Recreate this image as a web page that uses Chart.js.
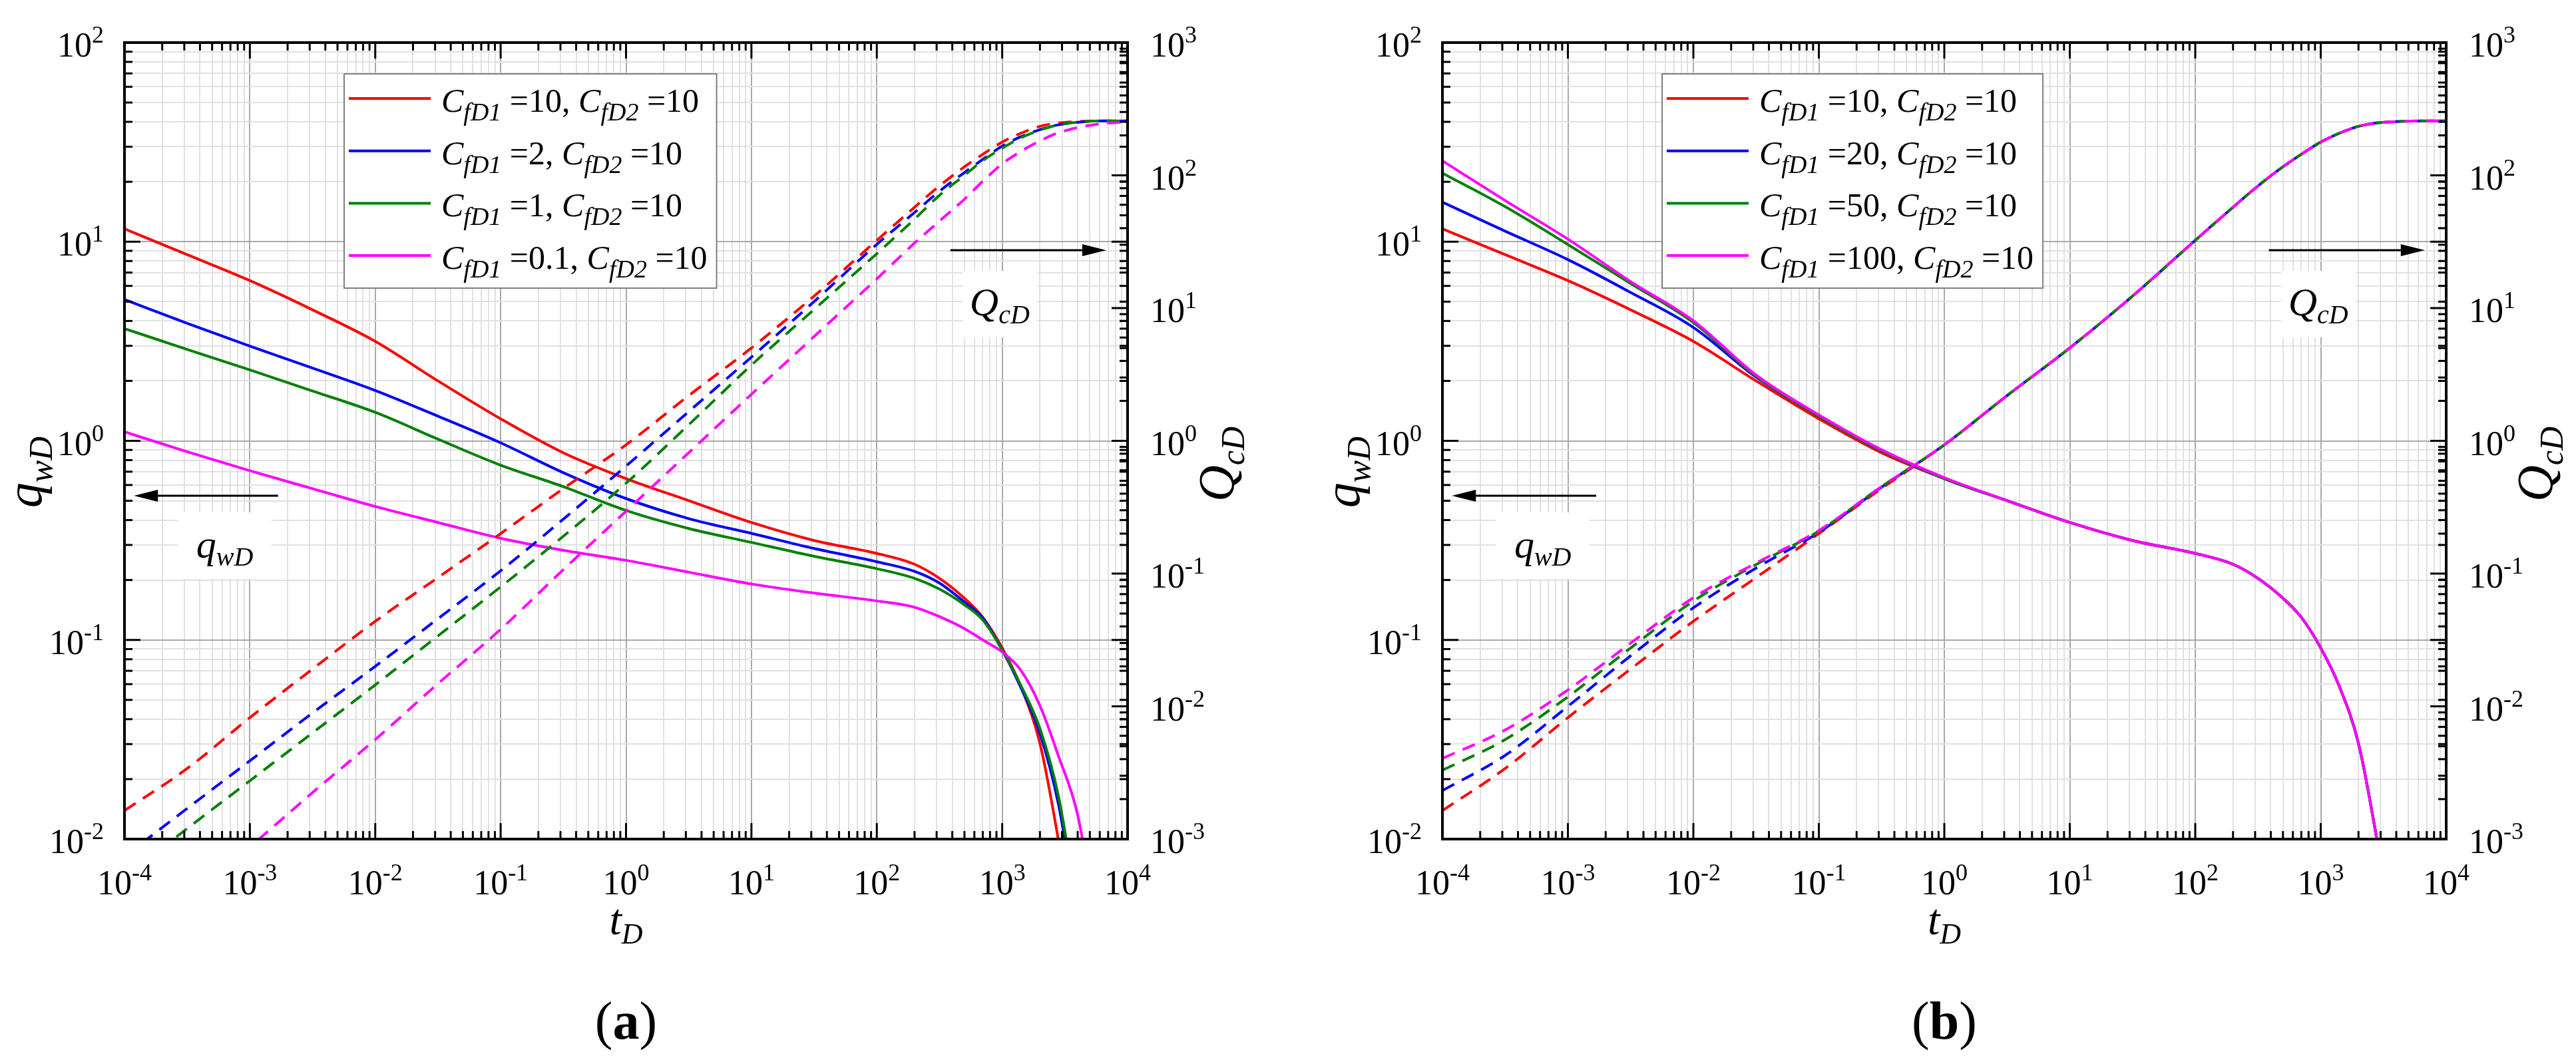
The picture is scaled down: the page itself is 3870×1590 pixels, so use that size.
<!DOCTYPE html>
<html>
<head>
<meta charset="utf-8">
<title>qwD e QcD em função de tD</title>
<script src="https://cdn.jsdelivr.net/npm/chart.js@4.4.1/dist/chart.umd.min.js"></script>
<style>
  body { margin: 0; background: #fff; }
  .painel { position: absolute; top: 0; }
</style>
</head>
<body>
<canvas id="graficoA" class="painel" width="1935" height="1590" style="left:0"></canvas>
<canvas id="graficoB" class="painel" width="1935" height="1590" style="left:1935px"></canvas>
<script>
// Tempo adimensional (eixo x) - mesmos pontos para todas as curvas
const tD = [1e-4, 3.16e-4, 1e-3, 3.16e-3, 0.01, 0.0316, 0.1, 0.316, 1, 3.16, 10, 31.6,
            100, 200, 316, 500, 700, 1000, 1400, 2000, 2800, 4000, 6300, 10000];

// Caso base CfD1 = 10, CfD2 = 10 (vermelho, aparece nos dois painéis)
const qwBase = [11.6, 8.61, 6.38, 4.55, 3.16, 2.0, 1.29, 0.871, 0.646, 0.501, 0.389, 0.316,
                0.272, 0.240, 0.204, 0.162, 0.130, 0.0912, 0.0589, 0.0302, 0.0100, 0.0025];
const QcBase = [0.00164, 0.0034, 0.00822, 0.0191, 0.0437, 0.0933, 0.200, 0.437, 0.933, 2.19, 5.01, 12.3,
                32.4, 57.5, 83.2, 116, 144, 178, 207, 234, 248, 254, 257, 257];

// Painel (a): CfD1 = 2, 1, 0.1
const qwA2 = [5.13, 3.89, 2.99, 2.32, 1.79, 1.33, 0.977, 0.692, 0.513, 0.407, 0.343, 0.288,
              0.247, 0.221, 0.193, 0.155, 0.129, 0.0891, 0.0582, 0.0339, 0.0151, 0.0040];
const qwA1 = [3.66, 2.88, 2.27, 1.78, 1.39, 1.02, 0.755, 0.589, 0.447, 0.363, 0.309, 0.263,
              0.228, 0.204, 0.180, 0.150, 0.126, 0.0891, 0.0596, 0.0359, 0.0166, 0.00447];
const qwA01 = [1.11, 0.881, 0.708, 0.575, 0.468, 0.389, 0.324, 0.282, 0.251, 0.219, 0.191, 0.172,
               0.157, 0.146, 0.131, 0.114, 0.100, 0.0871, 0.0708, 0.0468, 0.0263, 0.0132, 0.00251];
const QcA2 = [0.00074, 0.0017, 0.00389, 0.00891, 0.020, 0.0457, 0.105, 0.257, 0.646, 1.66, 4.27, 11.2,
              30.2, 52.5, 75.9, 105, 132, 166, 195, 221, 240, 251, 257, 257];
const QcA1 = [0.000513, 0.0012, 0.00275, 0.00631, 0.0145, 0.0339, 0.0794, 0.191, 0.479, 1.32, 3.72, 9.77,
              25.7, 46.8, 70.8, 100, 129, 160, 191, 219, 240, 251, 257, 257];
const QcA01 = [0.000135, 0.000347, 0.000871, 0.00224, 0.00562, 0.0148, 0.038, 0.107, 0.295, 0.813, 2.24, 6.1,
               16.6, 30.9, 45.2, 66.1, 90.2, 122, 151, 182, 209, 229, 245, 254];

// Painel (b): CfD1 = 20, 50, 100
const qwB20 = [15.8, 11.3, 8.13, 5.56, 3.71, 2.09, 1.33, 0.891, 0.646, 0.501, 0.389, 0.316,
               0.272, 0.240, 0.204, 0.162, 0.130, 0.0912, 0.0589, 0.0302, 0.0100, 0.0025];
const qwB50 = [22.1, 15.0, 9.68, 6.17, 3.93, 2.11, 1.33, 0.891, 0.646, 0.501, 0.389, 0.316,
               0.272, 0.240, 0.204, 0.162, 0.130, 0.0912, 0.0589, 0.0302, 0.0100, 0.0025];
const qwB100 = [25.5, 16.1, 10.3, 6.31, 4.01, 2.14, 1.35, 0.902, 0.653, 0.501, 0.389, 0.316,
                0.272, 0.240, 0.204, 0.162, 0.130, 0.0912, 0.0589, 0.0302, 0.0100, 0.0025];
const QcB20 = [0.00232, 0.00427, 0.01, 0.024, 0.0552, 0.11, 0.204, 0.447, 0.933, 2.19, 5.01, 12.3,
               32.4, 57.5, 83.2, 116, 144, 178, 207, 234, 248, 254, 257, 257];
const QcB50 = [0.0033, 0.00562, 0.0118, 0.0275, 0.0621, 0.117, 0.209, 0.452, 0.933, 2.19, 5.01, 12.3,
               32.4, 57.5, 83.2, 116, 144, 178, 207, 234, 248, 254, 257, 257];
const QcB100 = [0.00405, 0.00664, 0.0133, 0.0299, 0.0658, 0.12, 0.211, 0.452, 0.933, 2.19, 5.01, 12.3,
                32.4, 57.5, 83.2, 116, 144, 178, 207, 234, 248, 254, 257, 257];

// Legendas (CfD2 = 10 em todas)
const cfd1A = ['10', '2', '1', '0.1'];
const cfd1B = ['10', '20', '50', '100'];
const cfd2 = '10';
const cores = ['#ff0000', '#0000ff', '#008000', '#ff00ff'];

// Expoentes dos rótulos dos eixos (10^n) e marcas menores
const expT = [-4, -3, -2, -1, 0, 1, 2, 3, 4];
const expQw = [-2, -1, 0, 1, 2];
const expQc = [-3, -2, -1, 0, 1, 2, 3];
const menores = [2, 3, 4, 5, 6, 7, 8, 9];

const F = '"Liberation Serif", "Times New Roman", serif';
const it = px => `italic ${px}px ${F}`;
const rg = px => `${px}px ${F}`;

function ticksLog(exps) {
    const lista = [];
    exps.forEach((e, i) => {
        lista.push({ value: Math.pow(10, e), major: true });
        if (i < exps.length - 1) {
            menores.forEach(m => lista.push({ value: m * Math.pow(10, e), major: false }));
        }
    });
    return lista;
}

function serie(valores, cor, eixo, tracejado, ordem) {
    return {
        data: valores.map((v, i) => ({ x: tD[i], y: v })),
        borderColor: cor,
        borderWidth: 4,
        borderDash: tracejado ? [20, 13] : [],
        pointRadius: 0,
        fill: false,
        yAxisID: eixo,
        cubicInterpolationMode: 'monotone',
        order: ordem
    };
}

// Texto com partes em fontes diferentes (subscritos / sobrescritos)
function textoRico(ctx, x, y, partes, alinh) {
    let largura = 0;
    partes.forEach(p => { ctx.font = p.f; p.w = ctx.measureText(p.t).width; largura += p.w; });
    let cx = alinh === 'center' ? x - largura / 2 : (alinh === 'right' ? x - largura : x);
    partes.forEach(p => { ctx.font = p.f; ctx.fillText(p.t, cx, y + (p.dy || 0)); cx += p.w; });
    return largura;
}

function textoVertical(ctx, x, y, partes) {
    ctx.save();
    ctx.translate(x, y);
    ctx.rotate(-Math.PI / 2);
    textoRico(ctx, 0, 0, partes, 'center');
    ctx.restore();
}

function rotuloPot(ctx, x, y, e, alinh) {
    textoRico(ctx, x, y, [{ t: '10', f: rg(52) }, { t: String(e), f: rg(36), dy: -21 }], alinh);
}

function linha(ctx, x0, y0, x1, y1) {
    ctx.beginPath();
    ctx.moveTo(x0, y0);
    ctx.lineTo(x1, y1);
    ctx.stroke();
}

function seta(ctx, x0, y0, x1, y1) {
    const ang = Math.atan2(y1 - y0, x1 - x0);
    const comp = 36, meia = 9;
    const bx = x1 - comp * Math.cos(ang), by = y1 - comp * Math.sin(ang);
    ctx.lineWidth = 3;
    linha(ctx, x0, y0, bx, by);
    ctx.beginPath();
    ctx.moveTo(x1, y1);
    ctx.lineTo(bx + meia * Math.sin(ang), by - meia * Math.cos(ang));
    ctx.lineTo(bx - meia * Math.sin(ang), by + meia * Math.cos(ang));
    ctx.closePath();
    ctx.fill();
}

// Posições das anotações (em unidades dos eixos)
const anotQw = { tSeta0: 1.68e-3, tSeta1: 1.19e-4, qSeta: 0.53, tTexto: 6.3e-4, qTexto: 0.259 };
const anotQc = { tSeta0: 386, tSeta1: 6750, QSeta: 27.3, tTexto: 955, QTexto: 8.8 };

const desenho = {
    id: 'desenho',
    beforeDatasetsDraw(chart) {
        // caixas brancas atrás dos rótulos qwD e QcD
        const ctx = chart.ctx, sx = chart.scales.x, sq = chart.scales.q, sQ = chart.scales.Q;
        ctx.save();
        ctx.fillStyle = '#fff';
        let x = sx.getPixelForValue(anotQw.tTexto), y = sq.getPixelForValue(anotQw.qTexto);
        ctx.fillRect(x - 70, y - 68, 140, 100);
        x = sx.getPixelForValue(anotQc.tTexto); y = sQ.getPixelForValue(anotQc.QTexto);
        ctx.fillRect(x - 56, y - 67, 112, 100);
        ctx.restore();
    },
    afterDatasetsDraw(chart, args, opts) {
        const ctx = chart.ctx, a = chart.chartArea;
        const sx = chart.scales.x, sq = chart.scales.q, sQ = chart.scales.Q;
        ctx.save();
        ctx.fillStyle = '#000';
        ctx.strokeStyle = '#000';
        ctx.textAlign = 'left';
        ctx.textBaseline = 'alphabetic';

        // setas e rótulos internos
        const yq = sq.getPixelForValue(anotQw.qSeta);
        seta(ctx, sx.getPixelForValue(anotQw.tSeta0), yq, sx.getPixelForValue(anotQw.tSeta1), yq);
        textoRico(ctx, sx.getPixelForValue(anotQw.tTexto), sq.getPixelForValue(anotQw.qTexto),
            [{ t: 'q', f: it(60) }, { t: 'wD', f: it(40), dy: 12 }], 'center');
        const yQ = sQ.getPixelForValue(anotQc.QSeta);
        seta(ctx, sx.getPixelForValue(anotQc.tSeta0), yQ, sx.getPixelForValue(anotQc.tSeta1), yQ);
        textoRico(ctx, sx.getPixelForValue(anotQc.tTexto), sQ.getPixelForValue(anotQc.QTexto),
            [{ t: 'Q', f: it(60) }, { t: 'cD', f: it(40), dy: 12 }], 'center');

        // legenda
        const linhas = opts.cfd1.map(c => [
            { t: 'C', f: it(50) }, { t: 'fD1', f: it(38), dy: 13 }, { t: ' =' + c + ', ', f: rg(50) },
            { t: 'C', f: it(50) }, { t: 'fD2', f: it(38), dy: 13 }, { t: ' =' + cfd2, f: rg(50) }
        ]);
        let maxW = 0;
        linhas.forEach(p => {
            let w = 0;
            p.forEach(q => { ctx.font = q.f; w += ctx.measureText(q.t).width; });
            maxW = Math.max(maxW, w);
        });
        const lx = a.left + 330, ly = a.top + 47;
        const lw = 146 + maxW + 14, lh = 322;
        ctx.fillStyle = '#fff';
        ctx.fillRect(lx, ly, lw, lh);
        ctx.strokeStyle = '#7f7f7f';
        ctx.lineWidth = 2;
        ctx.strokeRect(lx, ly, lw, lh);
        linhas.forEach((p, k) => {
            const yy = ly + 37 + k * 78.7;
            ctx.strokeStyle = cores[k];
            ctx.lineWidth = 4;
            linha(ctx, lx + 7, yy, lx + 130, yy);
            ctx.fillStyle = '#000';
            textoRico(ctx, lx + 146, yy + 20, p, 'left');
        });
        ctx.restore();
    },
    afterDraw(chart, args, opts) {
        const ctx = chart.ctx, a = chart.chartArea;
        const sx = chart.scales.x, sq = chart.scales.q, sQ = chart.scales.Q;
        ctx.save();
        ctx.fillStyle = '#000';
        ctx.strokeStyle = '#000';
        ctx.textAlign = 'left';
        ctx.textBaseline = 'alphabetic';

        // moldura
        ctx.lineWidth = 4;
        ctx.strokeRect(a.left, a.top, a.right - a.left, a.bottom - a.top);

        // marcas para dentro
        ctx.lineWidth = 3;
        ticksLog(expT).forEach(tk => {
            const p = sx.getPixelForValue(tk.value), L = tk.major ? 24 : 12;
            linha(ctx, p, a.bottom, p, a.bottom - L);
            linha(ctx, p, a.top, p, a.top + L);
        });
        ticksLog(expQw).forEach(tk => {
            const p = sq.getPixelForValue(tk.value), L = tk.major ? 24 : 12;
            linha(ctx, a.left, p, a.left + L, p);
            linha(ctx, a.right, p, a.right - L, p);
        });
        ticksLog(expQc).forEach(tk => {
            const p = sQ.getPixelForValue(tk.value), L = tk.major ? 24 : 12;
            linha(ctx, a.right, p, a.right - L, p);
        });

        // rótulos dos eixos
        expT.forEach(e => rotuloPot(ctx, sx.getPixelForValue(Math.pow(10, e)), a.bottom + 83, e, 'center'));
        expQw.forEach(e => rotuloPot(ctx, a.left - 31, sq.getPixelForValue(Math.pow(10, e)) + 21, e, 'right'));
        expQc.forEach(e => rotuloPot(ctx, a.right + 34, sQ.getPixelForValue(Math.pow(10, e)) + 21, e, 'left'));

        // títulos
        const cx = (a.left + a.right) / 2, cy = (a.top + a.bottom) / 2;
        textoRico(ctx, cx, a.bottom + 143, [{ t: 't', f: it(66) }, { t: 'D', f: it(44), dy: 14 }], 'center');
        textoVertical(ctx, a.left - 125, cy + 47, [{ t: 'q', f: it(76) }, { t: 'wD', f: it(50), dy: 16 }]);
        textoVertical(ctx, a.right + 159, cy + 35, [{ t: 'Q', f: it(76) }, { t: 'cD', f: it(50), dy: 16 }]);

        // letra do painel
        textoRico(ctx, cx, a.bottom + 300,
            [{ t: '(', f: rg(80) }, { t: opts.letra, f: `bold 80px ${F}` }, { t: ')', f: rg(80) }], 'center');
        ctx.restore();
    }
};

function eixoLog(min, max, pos, exps, comGrade) {
    return {
        type: 'logarithmic',
        position: pos,
        min: min,
        max: max,
        afterBuildTicks: s => { s.ticks = ticksLog(exps); },
        afterFit: s => { if (pos === 'bottom') s.height = 0; else s.width = 0; },
        ticks: { display: false },
        border: { display: false },
        grid: {
            display: comGrade,
            drawTicks: false,
            lineWidth: 2,
            color: c => (c.tick && c.tick.major) ? '#a9a9a9' : '#e1e1e1'
        }
    };
}

function criarGrafico(id, qw, Qc, cfd1, letra, padEsq, padDir) {
    const datasets = [];
    qw.forEach((v, i) => datasets.push(serie(v, cores[i], 'q', false, -i)));
    Qc.forEach((v, i) => datasets.push(serie(v, cores[i], 'Q', true, -i - 10)));
    return new Chart(document.getElementById(id), {
        type: 'line',
        data: { datasets: datasets },
        options: {
            responsive: false,
            animation: false,
            devicePixelRatio: 1,
            layout: { padding: { left: padEsq, right: padDir, top: 64, bottom: 329 } },
            plugins: {
                legend: { display: false },
                tooltip: { enabled: false },
                desenho: { cfd1: cfd1, letra: letra }
            },
            scales: {
                x: eixoLog(1e-4, 1e4, 'bottom', expT, true),
                q: eixoLog(1e-2, 1e2, 'left', expQw, true),
                Q: eixoLog(1e-3, 1e3, 'right', expQc, false)
            }
        },
        plugins: [desenho]
    });
}

criarGrafico('graficoA', [qwBase, qwA2, qwA1, qwA01], [QcBase, QcA2, QcA1, QcA01], cfd1A, 'a', 187, 241);
criarGrafico('graficoB', [qwBase, qwB20, qwB50, qwB100], [QcBase, QcB20, QcB50, QcB100], cfd1B, 'b', 232, 195);
</script>
</body>
</html>
